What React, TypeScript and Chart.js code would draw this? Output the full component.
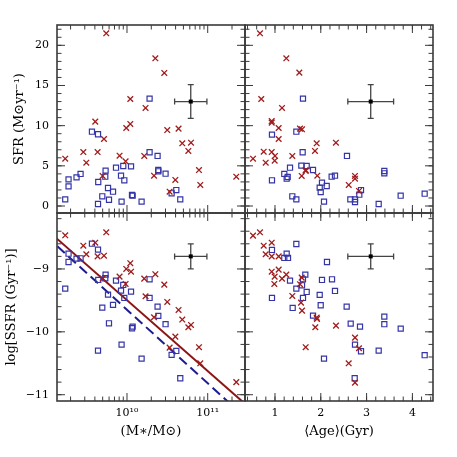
import React, { useEffect, useRef } from 'react';
import { Chart, registerables } from 'chart.js';

Chart.register(...registerables);

// ---- Top-left: SFR vs log stellar mass ----
const tlRedMass = [9.235, 9.743, 9.459, 9.496, 9.607, 9.636, 9.715, 9.698, 9.908, 9.983, 9.991, 10.041, 10.041, 10.23, 10.214, 10.351, 10.335, 10.462, 10.499, 10.528, 10.599, 10.639, 10.685, 10.76, 10.793, 10.892, 10.908, 11.354];
const tlRedSFR = [5.89, 21.5, 6.72, 5.39, 10.5, 6.72, 8.34, 3.74, 6.26, 5.57, 9.71, 10.21, 13.32, 12.2, 6.23, 18.39, 3.77, 16.56, 9.46, 1.78, 3.24, 9.63, 7.81, 6.85, 7.88, 4.48, 2.62, 3.65];
const tlBlueMass = [9.235, 9.276, 9.276, 9.375, 9.425, 9.566, 9.641, 9.644, 9.641, 9.694, 9.731, 9.735, 9.765, 9.777, 9.827, 9.864, 9.926, 9.933, 9.954, 9.967, 10.05, 10.062, 10.07, 10.181, 10.28, 10.28, 10.379, 10.388, 10.388, 10.478, 10.553, 10.611, 10.66];
const tlBlueSFR = [0.83, 3.32, 2.45, 3.57, 3.99, 9.25, 8.93, 2.99, 0.25, 1.21, 3.65, 4.4, 2.24, 0.78, 1.78, 4.77, 3.77, 0.54, 4.98, 3.2, 4.94, 1.37, 1.28, 0.54, 13.36, 6.69, 6.23, 4.48, 4.32, 4.02, 1.58, 1.99, 0.83];

// ---- Top-right: SFR vs mean age ----
const trRedAge = [0.672, 1.247, 1.531, 0.7, 1.153, 0.928, 0.928, 1.08, 1.546, 1.59, 1.08, 1.91, 2.33, 1.873, 0.753, 0.928, 1.0, 1.378, 0.52, 0.993, 0.797, 1.67, 1.583, 1.924, 2.747, 2.747, 2.61, 2.834, 1.67];
const trRedSFR = [21.5, 18.39, 16.6, 13.32, 12.2, 10.58, 10.38, 9.71, 9.63, 9.55, 8.34, 7.81, 7.88, 6.85, 6.76, 6.72, 6.23, 6.23, 5.89, 5.64, 5.39, 4.48, 3.74, 3.77, 3.74, 3.4, 2.62, 1.87, 4.36];
const trBlueAge = [1.611, 0.934, 1.466, 1.604, 2.572, 1.328, 1.575, 1.692, 1.83, 1.203, 1.277, 1.255, 0.934, 2.237, 2.31, 3.387, 3.387, 2.026, 1.976, 2.129, 1.998, 2.878, 2.841, 1.378, 1.466, 2.645, 2.747, 2.747, 2.07, 3.264, 3.744, 4.268];
const trBlueSFR = [13.36, 8.88, 9.25, 6.69, 6.23, 4.77, 5.02, 4.98, 4.48, 3.99, 3.61, 3.4, 3.2, 3.65, 3.77, 4.36, 4.07, 2.9, 2.28, 2.49, 1.74, 1.99, 1.41, 1.21, 0.83, 0.83, 0.83, 0.5, 0.54, 0.25, 1.28, 1.53];

// ---- Bottom-left: log SSFR vs log stellar mass ----
const blRedMass = [9.235, 9.743, 9.459, 9.496, 9.607, 9.636, 9.715, 9.698, 9.908, 9.983, 9.991, 10.041, 10.05, 10.23, 10.214, 10.351, 10.335, 10.462, 10.499, 10.528, 10.599, 10.639, 10.685, 10.76, 10.793, 10.892, 10.908, 11.354];
const blRedSSFR = [-8.464, -8.417, -8.63, -8.766, -8.582, -8.8, -8.789, -9.154, -9.122, -9.238, -9.0, -8.909, -9.043, -9.434, -9.154, -9.084, -9.768, -9.249, -9.525, -10.251, -10.076, -9.652, -9.805, -9.927, -9.89, -10.245, -10.5, -10.8];
const blBlueMass = [9.235, 9.276, 9.276, 9.375, 9.425, 9.566, 9.641, 9.644, 9.641, 9.694, 9.731, 9.735, 9.765, 9.777, 9.827, 9.864, 9.926, 9.933, 9.954, 9.967, 10.05, 10.062, 10.07, 10.181, 10.28, 10.28, 10.379, 10.388, 10.478, 10.553, 10.611, 10.66];
const blBlueSSFR = [-9.313, -8.757, -8.889, -8.836, -8.83, -8.598, -8.693, -9.175, -10.298, -9.615, -9.148, -9.09, -9.408, -9.864, -9.572, -9.185, -9.344, -10.203, -9.254, -9.461, -9.36, -9.943, -9.917, -10.426, -9.164, -9.461, -9.599, -9.747, -9.879, -10.367, -10.304, -10.738];
const fitMass = [9.0, 11.6];
const redFitSSFR = [-8.37, -11.30];
const blueFitSSFR = [-8.479, -11.52];

// ---- Bottom-right: log SSFR vs mean age ----
const brRedAge = [0.52, 0.672, 0.753, 0.928, 0.797, 0.928, 1.08, 0.928, 1.08, 0.993, 1.153, 1.247, 0.985, 1.378, 1.583, 1.546, 1.568, 1.59, 1.91, 1.917, 1.88, 2.332, 1.67, 2.747, 2.834, 2.609, 2.747];
const brRedSSFR = [-8.47, -8.417, -8.63, -8.582, -8.766, -8.8, -8.8, -9.043, -9.01, -9.122, -9.154, -9.09, -9.238, -9.429, -9.138, -9.243, -9.535, -9.663, -9.774, -9.795, -9.927, -9.901, -10.245, -10.092, -10.261, -10.5, -10.808];
const brBlueAge = [1.466, 0.934, 1.255, 1.203, 1.284, 2.135, 1.662, 1.328, 1.611, 2.026, 2.245, 1.466, 1.59, 1.692, 2.31, 0.934, 1.976, 1.611, 1.386, 1.998, 2.565, 1.83, 3.387, 3.387, 2.653, 2.856, 3.745, 2.747, 2.878, 3.264, 2.07, 4.268, 2.74];
const brBlueSSFR = [-8.603, -8.698, -8.757, -8.825, -8.825, -8.889, -9.09, -9.185, -9.164, -9.175, -9.164, -9.313, -9.26, -9.366, -9.35, -9.461, -9.413, -9.461, -9.62, -9.577, -9.599, -9.742, -9.758, -9.879, -9.869, -9.917, -9.949, -10.203, -10.309, -10.298, -10.426, -10.372, -10.738];

// ---- typical error bars (center, half-width) ----
const errMass = [10.79, 0.2];
const errAge = [3.09, 0.5];
const errSFR = [13.0, 2.1];
const errSSFR = [-8.8, 0.2];

// ---- tick labels ----
const massTicks = [10, 11];
const massTickLabels = ['10¹⁰', '10¹¹'];
const ageTicks = [1, 2, 3, 4];
const sfrTicks = [0, 5, 10, 15, 20];
const ssfrTicks = [-9, -10, -11];

const RED = '#a01c1c';
const BLUE = '#3535a8';
const FRAME = '#3a3a3a';
const TICK_FONT = { family: 'DejaVu Serif', size: 11 };
const TITLE_FONT = { family: 'DejaVu Serif', size: 13 };

const pts = (xs: number[], ys: number[]) => xs.map((x, i) => ({ x, y: ys[i] }));

function range(a: number, b: number, step: number) {
  const out: number[] = [];
  for (let v = a; v <= b + 1e-9; v += step) out.push(Math.round(v * 1000) / 1000);
  return out;
}

function logMinor(lo: number, hi: number) {
  const out: number[] = [];
  for (let n = Math.floor(lo); n <= Math.ceil(hi); n++) {
    for (let k = 2; k <= 9; k++) {
      const v = n + Math.log10(k);
      if (v > lo && v < hi) out.push(v);
    }
  }
  return out;
}

const framePlugin = {
  id: 'panelFrames',
  afterDatasetsDraw(chart: any) {
    const ctx = chart.ctx;
    const s = chart.scales;
    const panels = [
      { x: s.xL, y: s.yT, xMaj: massTicks, xMin: logMinor(9, 12), yMaj: sfrTicks, yMin: range(-1, 23, 1), ex: errMass, ey: errSFR },
      { x: s.xR, y: s.yT, xMaj: ageTicks, xMin: range(0.2, 4.4, 0.2), yMaj: sfrTicks, yMin: range(-1, 23, 1), ex: errAge, ey: errSFR },
      { x: s.xL, y: s.yB, xMaj: massTicks, xMin: logMinor(9, 12), yMaj: ssfrTicks, yMin: range(-11.2, -8, 0.2), ex: errMass, ey: errSSFR },
      { x: s.xR, y: s.yB, xMaj: ageTicks, xMin: range(0.2, 4.4, 0.2), yMaj: ssfrTicks, yMin: range(-11.2, -8, 0.2), ex: errAge, ey: errSSFR },
    ];
    ctx.save();
    for (const p of panels) {
      const L = p.x.left, R = p.x.right, T = p.y.top, B = p.y.bottom;
      ctx.strokeStyle = FRAME;
      ctx.lineWidth = 1;
      ctx.beginPath();
      const xt = (vals: number[], len: number) => {
        for (const v of vals) {
          const px = p.x.getPixelForValue(v);
          if (px <= L + 0.5 || px >= R - 0.5) continue;
          ctx.moveTo(px, B); ctx.lineTo(px, B - len);
          ctx.moveTo(px, T); ctx.lineTo(px, T + len);
        }
      };
      const yt = (vals: number[], len: number) => {
        for (const v of vals) {
          const py = p.y.getPixelForValue(v);
          if (py <= T + 0.5 || py >= B - 0.5) continue;
          ctx.moveTo(L, py); ctx.lineTo(L + len, py);
          ctx.moveTo(R, py); ctx.lineTo(R - len, py);
        }
      };
      xt(p.xMaj, 8); xt(p.xMin, 4.5); yt(p.yMaj, 8); yt(p.yMin, 4.5);
      ctx.stroke();
      ctx.lineWidth = 1.6;
      ctx.strokeRect(L, T, R - L, B - T);

      // typical error bar
      const cx = p.x.getPixelForValue(p.ex[0]);
      const cy = p.y.getPixelForValue(p.ey[0]);
      const x0 = p.x.getPixelForValue(p.ex[0] - p.ex[1]);
      const x1 = p.x.getPixelForValue(p.ex[0] + p.ex[1]);
      const y0 = p.y.getPixelForValue(p.ey[0] - p.ey[1]);
      const y1 = p.y.getPixelForValue(p.ey[0] + p.ey[1]);
      ctx.strokeStyle = '#444';
      ctx.lineWidth = 1.3;
      ctx.beginPath();
      ctx.moveTo(x0, cy); ctx.lineTo(x1, cy);
      ctx.moveTo(cx, y0); ctx.lineTo(cx, y1);
      ctx.moveTo(x0, cy - 3); ctx.lineTo(x0, cy + 3);
      ctx.moveTo(x1, cy - 3); ctx.lineTo(x1, cy + 3);
      ctx.moveTo(cx - 3, y0); ctx.lineTo(cx + 3, y0);
      ctx.moveTo(cx - 3, y1); ctx.lineTo(cx + 3, y1);
      ctx.stroke();
      ctx.fillStyle = '#000';
      ctx.fillRect(cx - 2, cy - 2, 4, 4);
    }
    ctx.restore();
  },
};

function axisBase(extra: any) {
  return {
    type: 'linear',
    grid: { display: false, drawTicks: false },
    border: { display: false },
    ...extra,
  };
}

export default function App() {
  const ref = useRef<HTMLCanvasElement | null>(null);
  useEffect(() => {
    if (!ref.current) return;
    const cross = { pointStyle: 'crossRot', pointRadius: 4, borderColor: RED, backgroundColor: RED, borderWidth: 1.3, showLine: false };
    const square = { pointStyle: 'rect', pointRadius: 3.6, borderColor: BLUE, backgroundColor: 'rgba(0,0,0,0)', borderWidth: 1.2, showLine: false };
    const chart = new Chart(ref.current, {
      type: 'scatter',
      data: {
        datasets: [
          { label: 'TL red', data: pts(tlRedMass, tlRedSFR), xAxisID: 'xL', yAxisID: 'yT', ...cross },
          { label: 'TL blue', data: pts(tlBlueMass, tlBlueSFR), xAxisID: 'xL', yAxisID: 'yT', ...square },
          { label: 'TR red', data: pts(trRedAge, trRedSFR), xAxisID: 'xR', yAxisID: 'yT', ...cross },
          { label: 'TR blue', data: pts(trBlueAge, trBlueSFR), xAxisID: 'xR', yAxisID: 'yT', ...square },
          { label: 'BL red', data: pts(blRedMass, blRedSSFR), xAxisID: 'xL', yAxisID: 'yB', ...cross },
          { label: 'BL blue', data: pts(blBlueMass, blBlueSSFR), xAxisID: 'xL', yAxisID: 'yB', ...square },
          { label: 'BR red', data: pts(brRedAge, brRedSSFR), xAxisID: 'xR', yAxisID: 'yB', ...cross },
          { label: 'BR blue', data: pts(brBlueAge, brBlueSSFR), xAxisID: 'xR', yAxisID: 'yB', ...square },
          { label: 'red fit', data: pts(fitMass, redFitSSFR), xAxisID: 'xL', yAxisID: 'yB', showLine: true, pointRadius: 0, borderColor: '#8c1414', borderWidth: 2 },
          { label: 'blue fit', data: pts(fitMass, blueFitSSFR), xAxisID: 'xL', yAxisID: 'yB', showLine: true, pointRadius: 0, borderColor: '#1c1c90', borderWidth: 2, borderDash: [10, 5] },
        ] as any,
      },
      options: {
        animation: false,
        responsive: false,
        events: [],
        layout: { padding: { top: 25, right: 24, left: 0, bottom: 0 } },
        plugins: { legend: { display: false }, tooltip: { enabled: false } },
        scales: {
          yB: axisBase({
            position: 'left', stack: 'v', stackWeight: 1, min: -11.1, max: -8.11,
            afterBuildTicks: (sc: any) => { sc.ticks = ssfrTicks.map((v) => ({ value: v })); },
            ticks: { font: TICK_FONT, color: '#000', padding: 8, callback: (v: any) => String(v).replace('-', '−') },
            title: { display: true, text: 'log[SSFR (Gyr⁻¹)]', font: TITLE_FONT, color: '#000', padding: { top: 4 } },
            afterFit: (sc: any) => { sc.width = 57; },
          }),
          yT: axisBase({
            position: 'left', stack: 'v', stackWeight: 1, min: -0.87, max: 22.53,
            afterBuildTicks: (sc: any) => { sc.ticks = sfrTicks.map((v) => ({ value: v })); },
            ticks: { font: TICK_FONT, color: '#000', padding: 8 },
            title: { display: true, text: 'SFR (M⊙yr⁻¹)', font: TITLE_FONT, color: '#000', padding: { top: 12 } },
            afterFit: (sc: any) => { sc.width = 57; },
          }),
          xL: axisBase({
            position: 'bottom', stack: 'h', stackWeight: 1, min: 9.133, max: 11.462,
            afterBuildTicks: (sc: any) => { sc.ticks = massTicks.map((v) => ({ value: v })); },
            ticks: { font: TICK_FONT, color: '#000', padding: 6, maxRotation: 0, autoSkip: false, callback: (v: any) => massTickLabels[massTicks.indexOf(Number(v))] },
            title: { display: true, text: '(M∗/M⊙)', font: TITLE_FONT, color: '#000', padding: { bottom: 18 } },
            afterFit: (sc: any) => { sc.height = 56; },
          }),
          xR: axisBase({
            position: 'bottom', stack: 'h', stackWeight: 1, min: 0.345, max: 4.45,
            afterBuildTicks: (sc: any) => { sc.ticks = ageTicks.map((v) => ({ value: v })); },
            ticks: { font: TICK_FONT, color: '#000', padding: 6, maxRotation: 0, autoSkip: false },
            title: { display: true, text: '⟨Age⟩(Gyr)', font: TITLE_FONT, color: '#000', padding: { bottom: 18 } },
            afterFit: (sc: any) => { sc.height = 56; },
          }),
        },
      } as any,
      plugins: [framePlugin],
    });
    return () => chart.destroy();
  }, []);
  return (
    <div style={{ position: 'absolute', left: 0, top: 0, width: 457, height: 457, background: '#fff' }}>
      <canvas ref={ref} width={457} height={457} style={{ width: 457, height: 457, display: 'block' }} />
    </div>
  );
}
